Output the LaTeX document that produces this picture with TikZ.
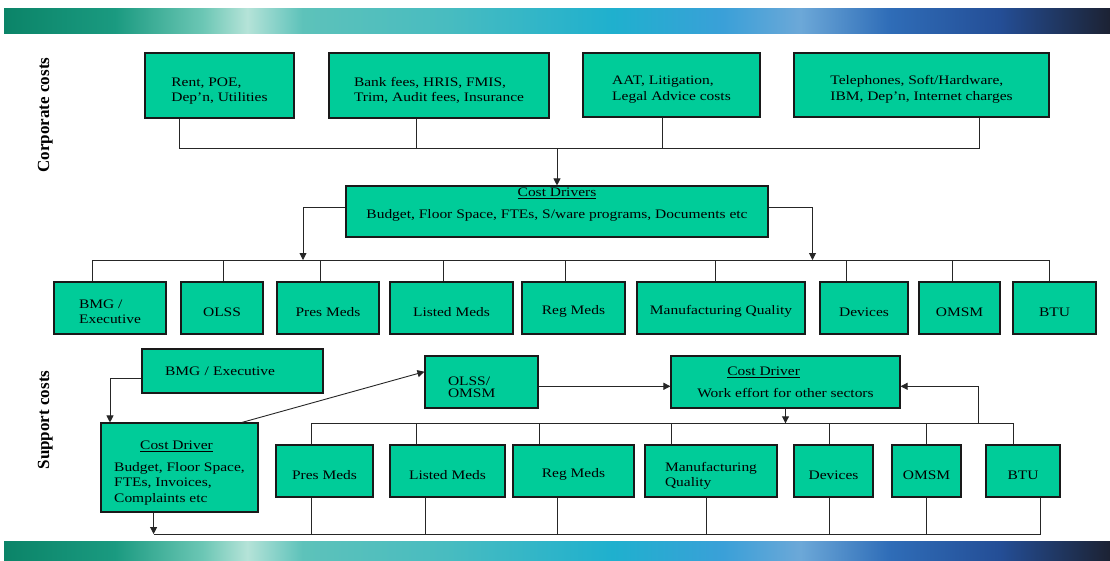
\documentclass[tikz,border=0pt]{standalone}
\usepackage{fontspec}
\setmainfont{Liberation Serif}[FakeStretch=1.19]
\newfontfamily\labelfont{Liberation Serif}
\usetikzlibrary{arrows.meta}
\definecolor{boxgreen}{HTML}{00CC99}
\definecolor{bnA}{HTML}{0B8468}
\definecolor{bnB}{HTML}{1A9A80}
\definecolor{bnC}{HTML}{6CC7B5}
\definecolor{bnD}{HTML}{B5E3D8}
\definecolor{bnE}{HTML}{5DC2BA}
\definecolor{bnF}{HTML}{48BCC0}
\definecolor{bnG}{HTML}{1FB0CE}
\definecolor{bnH}{HTML}{3AA0D8}
\definecolor{bnI}{HTML}{6CA8D8}
\definecolor{bnJ}{HTML}{2F6DB8}
\definecolor{bnK}{HTML}{244E96}
\definecolor{bnL}{HTML}{1C2233}
\pgfdeclarehorizontalshading{banner}{100bp}{color(0bp)=(bnA); color(25bp)=(bnA); color(30bp)=(bnB); color(34bp)=(bnC); color(36bp)=(bnD); color(38.5bp)=(bnE); color(45bp)=(bnF); color(52.5bp)=(bnG); color(57.5bp)=(bnH); color(61bp)=(bnI); color(65bp)=(bnJ); color(70bp)=(bnK); color(75bp)=(bnL); color(100bp)=(bnL)}
\newcommand\boxfs{\fontsize{13}{15.3}\selectfont}
\newcommand\lift[1]{\rule{0pt}{#1pt}}
\begin{document}
\begin{tikzpicture}[x=1pt,y=-1pt,
  box/.style={draw=black!90, line width=1.1pt, fill=boxgreen, inner sep=2pt, align=center, font=\boxfs},
  dn/.style={execute at begin node={\rule{0pt}{#1pt}}},
  conn/.style={draw=black!85, line width=0.9pt},
  arrowc/.style={conn, -{Triangle[length=7pt,width=7pt]}},
  sidelabel/.style={rotate=90, font=\labelfont\bfseries\fontsize{17}{20}\selectfont}]
\useasboundingbox (0,0) rectangle (1110,560);
\fill[white] (0,0) rectangle (1110,560);
\shade[shading=banner] (4,8) rectangle (1110,33);
\shade[shading=banner] (4,541) rectangle (1110,560);

% side labels
\node[sidelabel] (lcorp) at (45.3,115) {Corporate costs};
\node[sidelabel] (lsupp) at (45.3,420) {Support costs};

% corporate cost boxes
\node[box, minimum width=149pt, minimum height=65pt, align=left] (c1) at (219.5,85.5) {\lift{19.5}Rent, POE,\\Dep'n, Utilities};
\node[box, minimum width=220pt, minimum height=65pt, align=left] (c2) at (439,85.5) {\lift{19.5}Bank fees, HRIS, FMIS,\\Trim, Audit fees, Insurance};
\node[box, minimum width=177pt, minimum height=64pt, align=left] (c3) at (671.5,85) {\lift{17.5}AAT, Litigation,\\Legal Advice costs};
\node[box, minimum width=255pt, minimum height=64pt, align=left] (c4) at (921.5,85) {\lift{17.5}Telephones, Soft/Hardware,\\IBM, Dep'n, Internet charges};

\coordinate (j1) at (557,148);
\draw[conn] (179,0 |- c1.south) -- (179,148) -- (979,148) -- (979,0 |- c4.south);
\draw[conn] (416.4,0 |- c2.south) -- (416.4,148);
\draw[conn] (662.5,0 |- c3.south) -- (662.5,148);

% cost drivers
\node[box, minimum width=422pt, minimum height=51pt] (cd) at (557,211.5) {};
\node[font=\boxfs, align=center, inner sep=0pt] (cdt) at (557,204.7) {\underline{Cost Drivers}\\[6.7pt]Budget, Floor Space, FTEs, S/ware programs, Documents etc};
\draw[arrowc] (j1) -- (cd.north);

\coordinate (jl) at (303,260);
\coordinate (jr) at (812.5,260);
\draw[arrowc] ([yshift=4pt]cd.west) -| (jl);
\draw[arrowc] ([yshift=4pt]cd.east) -| (jr);

% sector row
\node[box, minimum width=112pt, minimum height=52pt, align=left] (r1) at (110,308) {\lift{16}BMG /\\Executive};
\node[box, dn=16.5, minimum width=82pt, minimum height=52pt] (r2) at (222,308) {OLSS};
\node[box, dn=16.5, minimum width=102pt, minimum height=52pt] (r3) at (328,308) {Pres Meds};
\node[box, dn=16.5, minimum width=123pt, minimum height=52pt] (r4) at (451.5,308) {Listed Meds};
\node[box, dn=16.5, minimum width=103pt, minimum height=52pt] (r5) at (573.5,308) {Reg Meds};
\node[box, dn=16.5, minimum width=168pt, minimum height=52pt] (r6) at (721,308) {Manufacturing Quality};
\node[box, dn=16.5, minimum width=88pt, minimum height=52pt] (r7) at (864,308) {Devices};
\node[box, dn=16.5, minimum width=81pt, minimum height=52pt] (r8) at (959.5,308) {OMSM};
\node[box, dn=16.5, minimum width=83pt, minimum height=52pt] (r9) at (1054.5,308) {BTU};

\draw[conn] (92,0 |- r1.north) -- (92,260) -- (1049,260) -- (1049,0 |- r9.north);
\draw[conn] (223.6,260) -- (223.6,0 |- r2.north);
\draw[conn] (320.4,260) -- (320.4,0 |- r3.north);
\draw[conn] (443.2,260) -- (443.2,0 |- r4.north);
\draw[conn] (565.7,260) -- (565.7,0 |- r5.north);
\draw[conn] (715.4,260) -- (715.4,0 |- r6.north);
\draw[conn] (846.8,260) -- (846.8,0 |- r7.north);
\draw[conn] (952.5,260) -- (952.5,0 |- r8.north);

% support costs
\node[box, minimum width=181pt, minimum height=44pt, text width=135pt, inner xsep=23pt, align=left] (sbmg) at (232.5,371) {BMG / Executive};
\node[box, minimum width=157pt, minimum height=89pt, align=left] (scd) at (179.5,467.5) {\lift{19.5}\hspace*{26pt}\underline{Cost Driver}\\[6.5pt]Budget, Floor Space,\\FTEs, Invoices,\\Complaints etc};
\node[box, minimum width=113pt, minimum height=52pt, text width=67pt, inner xsep=23pt, align=left] (olss) at (481.5,382) {\lift{19.5}OLSS/\\[-3pt]OMSM};
\node[box, minimum width=229pt, minimum height=52pt, align=left] (wcd) at (785.5,382) {\hspace*{30pt}\underline{Cost Driver}\\[6.4pt]Work effort for other sectors};

\draw[arrowc] ([yshift=-7.7pt]sbmg.west) -| (110,0 |- scd.north);
\draw[arrowc] (241.8,0 |- scd.north) -- ([yshift=10.3pt]olss.west);
\draw[arrowc] ([yshift=-4.3pt]olss.east) -- ([yshift=-4.3pt]wcd.west);

\coordinate (jw) at (785.5,423.3);
\coordinate (jb) at (153.6,534);
\draw[arrowc] (wcd.south) -- (jw);
\draw[arrowc] (153.6,0 |- scd.south) -- (jb);

% support sector row
\node[box, dn=16.5, minimum width=97pt, minimum height=52pt] (t1) at (324.5,471) {Pres Meds};
\node[box, dn=16.5, minimum width=115pt, minimum height=52pt] (t2) at (447.5,471) {Listed Meds};
\node[box, dn=16.5, minimum width=121pt, minimum height=52pt] (t3) at (573.5,471) {Reg Meds};
\node[box, minimum width=132pt, minimum height=52pt, align=left] (t4) at (711,471) {\lift{18.5}Manufacturing\\Quality};
\node[box, dn=16.5, minimum width=79pt, minimum height=52pt] (t5) at (833.5,471) {Devices};
\node[box, dn=16.5, minimum width=69pt, minimum height=52pt] (t6) at (926.5,471) {OMSM};
\node[box, dn=16.5, minimum width=74pt, minimum height=52pt] (t7) at (1023,471) {BTU};

\draw[conn] (311.4,0 |- t1.north) -- (311.4,423.3) -- (1013.6,423.3) -- (1013.6,0 |- t7.north);
\draw[conn] (416.8,423.3) -- (416.8,0 |- t2.north);
\draw[conn] (539.6,423.3) -- (539.6,0 |- t3.north);
\draw[conn] (671.8,423.3) -- (671.8,0 |- t4.north);
\draw[conn] (829.6,423.3) -- (829.6,0 |- t5.north);
\draw[conn] (926,423.3) -- (926,0 |- t6.north);
\draw[arrowc] (978.6,423.3) |- ([yshift=-4.3pt]wcd.east);

\draw[conn] (jb) -- (1040,534) -- (1040,0 |- t7.south);
\draw[conn] (311.4,0 |- t1.south) -- (311.4,534);
\draw[conn] (425.4,0 |- t2.south) -- (425.4,534);
\draw[conn] (557,0 |- t3.south) -- (557,534);
\draw[conn] (706.4,0 |- t4.south) -- (706.4,534);
\draw[conn] (829.6,0 |- t5.south) -- (829.6,534);
\draw[conn] (926,0 |- t6.south) -- (926,534);
\end{tikzpicture}
\end{document}
